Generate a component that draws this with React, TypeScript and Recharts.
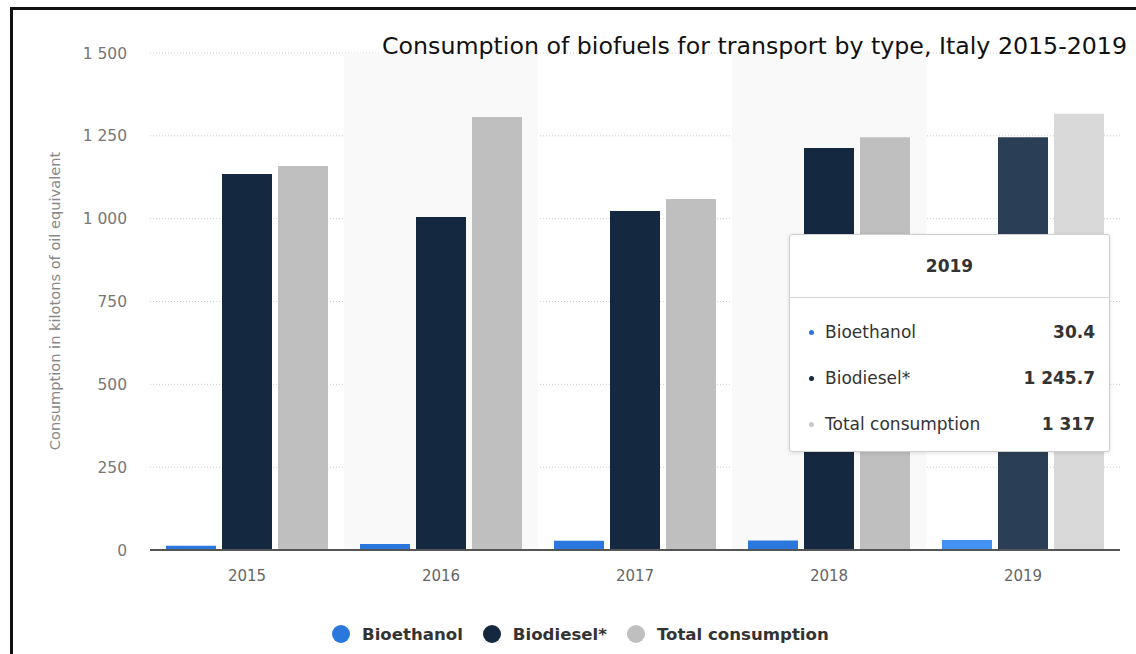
import { Bar, BarChart, CartesianGrid, Cell, Label, Legend, ReferenceArea, Tooltip, XAxis, YAxis } from "recharts";

const years = ["2015", "2016", "2017", "2018", "2019"];
const bioethanol = [13, 18, 28, 29, 30.4];
const biodiesel = [1135, 1005, 1023, 1213, 1245.7];
const totalConsumption = [1159, 1307, 1059, 1246, 1317];
const yTicks = [0, 250, 500, 750, 1000, 1250, 1500];
const shadedYears = ["2016", "2018"];

const series = [
  { key: "bioethanol", name: "Bioethanol", color: "#2a77dd", hover: "#4592f5" },
  { key: "biodiesel", name: "Biodiesel*", color: "#14283f", hover: "#2a3f56" },
  { key: "total", name: "Total consumption", color: "#bfbfbf", hover: "#d9d9d9" },
];

const data = years.map((year, i) => ({
  year,
  bioethanol: bioethanol[i],
  biodiesel: biodiesel[i],
  total: totalConsumption[i],
}));

const activeIndex = 4;
const font = "'DejaVu Sans', Verdana, sans-serif";

const fmt = (v: number) => {
  const [int, dec] = String(v).split(".");
  const withSpaces = int.replace(/\B(?=(\d{3})+(?!\d))/g, " ");
  return dec ? `${withSpaces}.${dec}` : withSpaces;
};

function TooltipBox({ payload }: any) {
  if (!payload || !payload.length) return null;
  const year = payload[0].payload.year;
  return (
    <div
      style={{
        width: 321,
        height: 218,
        boxSizing: "border-box",
        background: "#fff",
        border: "1px solid #cfcfcf",
        borderRadius: 3,
        boxShadow: "0 1px 4px rgba(0,0,0,0.12)",
        fontFamily: font,
        color: "#333",
      }}
    >
      <div
        style={{
          height: 62,
          lineHeight: "62px",
          textAlign: "center",
          fontWeight: "bold",
          fontSize: 17,
          borderBottom: "1px solid #d6d6d6",
        }}
      >
        {year}
      </div>
      <div style={{ paddingTop: 11 }}>
        {series.map((s) => (
          <div
            key={s.key}
            style={{
              height: 46,
              display: "flex",
              alignItems: "center",
              padding: "0 14px 0 19px",
              fontSize: 17,
            }}
          >
            <span
              style={{
                width: 5,
                height: 5,
                borderRadius: "50%",
                background: s.key === "total" ? "#c8c8c8" : s.color,
                marginRight: 11,
              }}
            />
            <span style={{ flex: 1 }}>{s.name}</span>
            <span style={{ fontWeight: "bold" }}>{fmt(payload.find((p: any) => p.dataKey === s.key)?.value)}</span>
          </div>
        ))}
      </div>
    </div>
  );
}

function LegendRow() {
  return (
    <div
      style={{
        height: 24,
        display: "flex",
        alignItems: "center",
        paddingLeft: 332,
        fontFamily: font,
        fontWeight: "bold",
        fontSize: 16.6,
        color: "#333",
      }}
    >
      {series.map((s) => (
        <div key={s.key} style={{ display: "flex", alignItems: "center", marginRight: 20 }}>
          <span
            style={{
              width: 18,
              height: 18,
              borderRadius: "50%",
              background: s.color,
              marginRight: 12,
            }}
          />
          <span>{s.name}</span>
        </div>
      ))}
    </div>
  );
}

export default function App() {
  return (
    <div style={{ position: "fixed", top: 0, left: 0, width: 1136, height: 654, background: "#fff" }}>
      <BarChart
        width={1136}
        height={654}
        data={data}
        margin={{ top: 53, right: 16, bottom: 8, left: 0 }}
        barCategoryGap={16}
        barGap={6}
      >
        {shadedYears.map((y) => (
          <ReferenceArea key={y} x1={y} x2={y} fill="#f9f9f9" fillOpacity={1} stroke="none" ifOverflow="visible" />
        ))}
        <CartesianGrid vertical={false} stroke="#cccccc" strokeDasharray="1 2" />
        <XAxis
          dataKey="year"
          height={72}
          axisLine={{ stroke: "#555", strokeWidth: 2 }}
          tickLine={false}
          tickSize={0}
          tickMargin={20}
          tick={{ fill: "#666", fontSize: 15, fontFamily: font }}
        />
        <YAxis
          width={150}
          domain={[0, 1500]}
          ticks={yTicks}
          axisLine={false}
          tickLine={false}
          tickSize={0}
          tickMargin={23}
          tickFormatter={(v: number) => fmt(v)}
          tick={{ fill: "#777", fontSize: 15.5, fontFamily: font }}
        >
          <Label
            content={() => (
              <text
                x={56}
                y={301}
                transform="rotate(-90 56 301)"
                textAnchor="middle"
                dominantBaseline="middle"
                fill="#888"
                fontSize={14.6}
                fontFamily={font}
              >
                Consumption in kilotons of oil equivalent
              </text>
            )}
          />
        </YAxis>
        <Legend verticalAlign="bottom" wrapperStyle={{ left: 0, width: 1136 }} content={() => <LegendRow />} />
        <Tooltip
          active
          defaultIndex={activeIndex}
          cursor={false}
          position={{ x: 789, y: 234 }}
          isAnimationActive={false}
          content={(props: any) => <TooltipBox {...props} />}
        />
        {series.map((s) => (
          <Bar key={s.key} dataKey={s.key} name={s.name} fill={s.color} isAnimationActive={false} activeBar={false}>
            {data.map((d, i) => (
              <Cell key={d.year} fill={i === activeIndex ? s.hover : s.color} />
            ))}
          </Bar>
        ))}
      </BarChart>
      <div
        style={{
          position: "absolute",
          top: 30,
          right: 9,
          fontFamily: font,
          fontSize: 23.7,
          color: "#111",
          whiteSpace: "nowrap",
          lineHeight: "32px",
        }}
      >
        Consumption of biofuels for transport by type, Italy 2015-2019
      </div>
      <div
        style={{
          position: "absolute",
          top: 7,
          left: 10,
          width: 1126,
          height: 647,
          boxSizing: "border-box",
          borderTop: "3px solid #111",
          borderLeft: "3px solid #111",
        }}
      />
    </div>
  );
}
